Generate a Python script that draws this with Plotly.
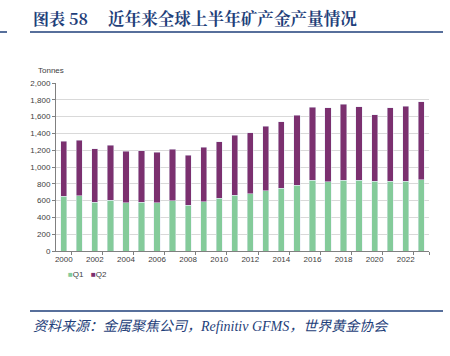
import plotly.graph_objects as go

years = list(range(2000, 2024))
q1 = [651, 659, 579, 607, 575, 583, 575, 599, 544, 587, 627, 663, 683, 718, 746, 782,
      845, 825, 845, 841, 833, 829, 833, 849]
total = [1306, 1317, 1218, 1258, 1187, 1194, 1175, 1214, 1139, 1234, 1302, 1381, 1409,
         1484, 1536, 1619, 1710, 1706, 1746, 1718, 1623, 1706, 1722, 1774]
q2 = [t - a for t, a in zip(total, q1)]
series_names = ["Q1", "Q2"]
xtick_years = list(range(2000, 2023, 2))
ytick_vals = list(range(0, 2001, 200))

GREEN = "#84CB9A"
PURPLE = "#7B306F"
BLUE = "#1F3F7A"
TICKFONT = dict(family="Liberation Sans Narrow, Arial Narrow, Liberation Sans", size=8, color="#404040")

W, H = 450, 356
L, R, T, B = 56, 21, 83, 105
PW, PH = W - L - R, H - T - B

def px(x):
    return (x - L) / PW

def py(y):
    return (H - B - y) / PH

fig = go.Figure()
fig.add_trace(go.Bar(x=years, y=q1, name=series_names[0], marker_color=GREEN, showlegend=False))
fig.add_trace(go.Bar(x=years, y=q2, name=series_names[1], marker_color=PURPLE, showlegend=False))

fig.update_layout(
    width=W, height=H,
    margin=dict(l=L, r=R, t=T, b=B, pad=0),
    paper_bgcolor="white", plot_bgcolor="white",
    barmode="stack", bargap=0.6,
    font=TICKFONT,
    showlegend=False,
    xaxis=dict(range=[1999.5, 2023.5], tickmode="array", tickvals=xtick_years,
               ticktext=[str(y) for y in xtick_years], ticks="", showgrid=False,
               showline=True, linecolor="#808080", linewidth=1, tickfont=TICKFONT,
               minor=dict(tickvals=[y + 0.5 for y in xtick_years] + [2023.5], ticks="outside",
                          ticklen=3, tickcolor="#808080", showgrid=False),
               zeroline=False, fixedrange=True),
    yaxis=dict(range=[0, 2000], tickmode="array", tickvals=ytick_vals,
               ticktext=[f"{v:,}" for v in ytick_vals], ticks="outside", ticklen=3,
               tickcolor="#808080", showline=True, linecolor="#808080", linewidth=1,
               showgrid=True, gridcolor="#D9D9D9", gridwidth=1, tickfont=TICKFONT,
               zeroline=False, fixedrange=True),
)

# legend (compact, as in the reference)
for name, color, lx in [(series_names[0], GREEN, 66), (series_names[1], PURPLE, 89)]:
    fig.add_annotation(text=f"<span style='color:{color}'>■</span>{name}", xref="paper", yref="paper",
                       x=px(lx), y=py(274), xanchor="left", yanchor="middle", showarrow=False,
                       font=TICKFONT)

fig.add_annotation(text="Tonnes", xref="paper", yref="paper", x=px(36), y=py(70),
                   xanchor="left", yanchor="middle", showarrow=False, font=TICKFONT)

fig.add_annotation(text="<b>图表 58</b>", xref="paper", yref="paper", x=px(31), y=py(18),
                   xanchor="left", yanchor="middle", showarrow=False,
                   font=dict(family="Noto Serif CJK SC, Liberation Serif, Noto Sans CJK SC", size=16, color=BLUE))
fig.add_annotation(text="<b>近年来全球上半年矿产金产量情况</b>", xref="paper", yref="paper", x=px(106), y=py(18),
                   xanchor="left", yanchor="middle", showarrow=False,
                   font=dict(family="Noto Serif CJK SC, Noto Sans CJK SC", size=16.6, color=BLUE))
fig.add_annotation(text="<i>资料来源：金属聚焦公司，Refinitiv GFMS，世界黄金协会</i>", xref="paper", yref="paper",
                   x=px(31), y=py(326), xanchor="left", yanchor="middle", showarrow=False,
                   font=dict(family="Liberation Serif, Noto Sans CJK SC", size=14, color=BLUE))

for (x0, x1, yy) in [(30, 443, 32), (0, 7, 32), (30, 443, 311)]:
    fig.add_shape(type="line", xref="paper", yref="paper", x0=px(x0), x1=px(x1),
                  y0=py(yy), y1=py(yy), line=dict(color=BLUE, width=1.5))

fig.write_html("out.html", config={"displayModeBar": False},
               post_script="document.body.style.margin='0';document.body.style.overflow='hidden';")
